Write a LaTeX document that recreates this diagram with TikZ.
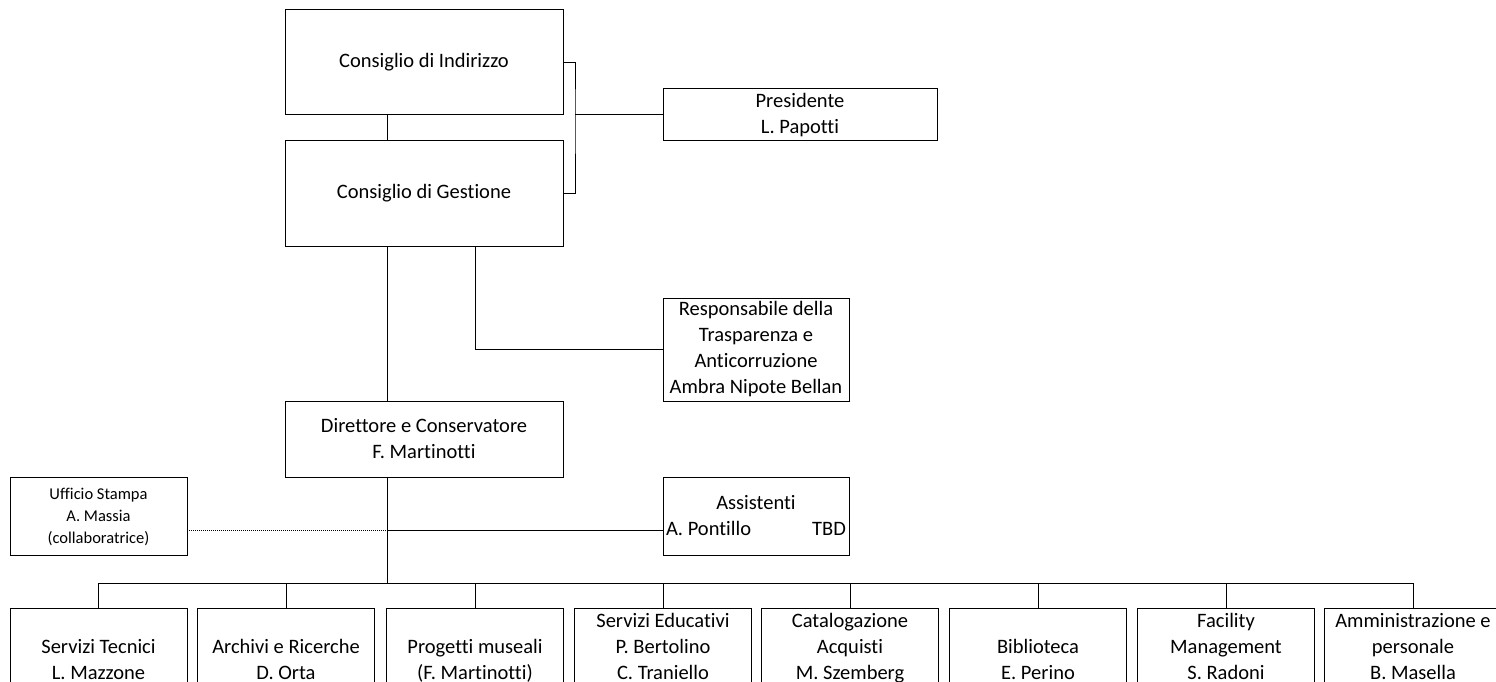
\documentclass[tikz,border=0pt]{standalone}
\usepackage{fontspec}
\setmainfont{Carlito}[Ligatures=NoCommon]
\tikzstyle{every node}=[font=\fontsize{20.5}{26}\selectfont, outer sep=0pt]
\tikzstyle{office}=[draw, align=flush center, inner sep=2pt]
\tikzstyle{board}=[office, minimum width=278pt, minimum height=105pt]
\tikzstyle{unit}=[draw, anchor=north, minimum width=177pt, text width=173pt, align=flush center, inner xsep=2pt, inner ysep=4pt, text height=15pt, text depth=100pt]

\begin{document}
\begin{tikzpicture}[x=1pt, y=-1pt, line width=1pt]
\useasboundingbox (0,0) rectangle (1496,682);
% Governing bodies
    \node[board] (indirizzo) at (424,62.5) {Consiglio di Indirizzo};
    \node[board] (gestione) at (424,193.5) {Consiglio di Gestione};
    \node[office, minimum width=274pt, minimum height=52pt] (presidente) at (800,115) {Presidente\\L. Papotti};
    \node[office, minimum width=186pt, minimum height=103pt] (trasparenza) at (756,349.5) {Responsabile della\\Trasparenza e\\Anticorruzione\\Ambra Nipote Bellan};
% Direction
    \node[office, minimum width=278pt, minimum height=76pt] (direttore) at (424,439) {Direttore e Conservatore\\F. Martinotti};
    \node[office, minimum width=177pt, minimum height=78pt, text depth=0pt, font=\fontsize{16.5}{22}\selectfont] (stampa) at (98.5,516) {Ufficio Stampa\\A. Massia\\(collaboratrice)};
    \node[office, minimum width=186pt, minimum height=78pt, text width=180pt] (assistenti) at (756,516) {Assistenti\\A. Pontillo\hfill TBD};
% Units
    \node[unit] (tecnici) at (98.5,608) {\mbox{}\\Servizi Tecnici\\L. Mazzone};
    \node[unit] (archivi) at (286,608) {\mbox{}\\Archivi e Ricerche\\D. Orta};
    \node[unit] (progetti) at (475,608) {\mbox{}\\Progetti museali\\(F. Martinotti)};
    \node[unit] (educativi) at (663,608) {Servizi Educativi\\P. Bertolino\\C. Traniello};
    \node[unit] (catalogo) at (850,608) {Catalogazione\\Acquisti\\M. Szemberg};
    \node[unit] (biblioteca) at (1038,608) {\mbox{}\\Biblioteca\\E. Perino};
    \node[unit] (facility) at (1226,608) {Facility\\Management\\S. Radoni};
    \node[unit] (amministrazione) at (1413,608) {Amministrazione e\\personale\\B. Masella};
% Reference points
    \coordinate (spine) at (387,0);
    \coordinate (bracket) at (575,115);
    \coordinate (tap) at (475,0);
    \coordinate (staff) at (0,530);
    \coordinate (bus) at (0,583);
% Lines
    \draw (indirizzo.south -| spine) -- (gestione.north -| spine);
    \draw (indirizzo.east) -| (bracket) |- (gestione.east);
    \draw (bracket) -- (presidente.west);
    \draw (gestione.south -| tap) |- (trasparenza.west);
    \draw (gestione.south -| spine) -- (direttore.north -| spine);
    \draw (direttore.south -| spine) -- (bus -| spine);
    \draw[densely dotted] (stampa.east |- staff) -- (staff -| spine);
    \draw (staff -| spine) -- (assistenti.west |- staff);
    \draw (bus -| tecnici) -- (bus -| amministrazione);
    \draw (bus -| tecnici) -- (tecnici.north);
    \draw (bus -| archivi) -- (archivi.north);
    \draw (bus -| progetti) -- (progetti.north);
    \draw (bus -| educativi) -- (educativi.north);
    \draw (bus -| catalogo) -- (catalogo.north);
    \draw (bus -| biblioteca) -- (biblioteca.north);
    \draw (bus -| facility) -- (facility.north);
    \draw (bus -| amministrazione) -- (amministrazione.north);
\end{tikzpicture}
\end{document}
